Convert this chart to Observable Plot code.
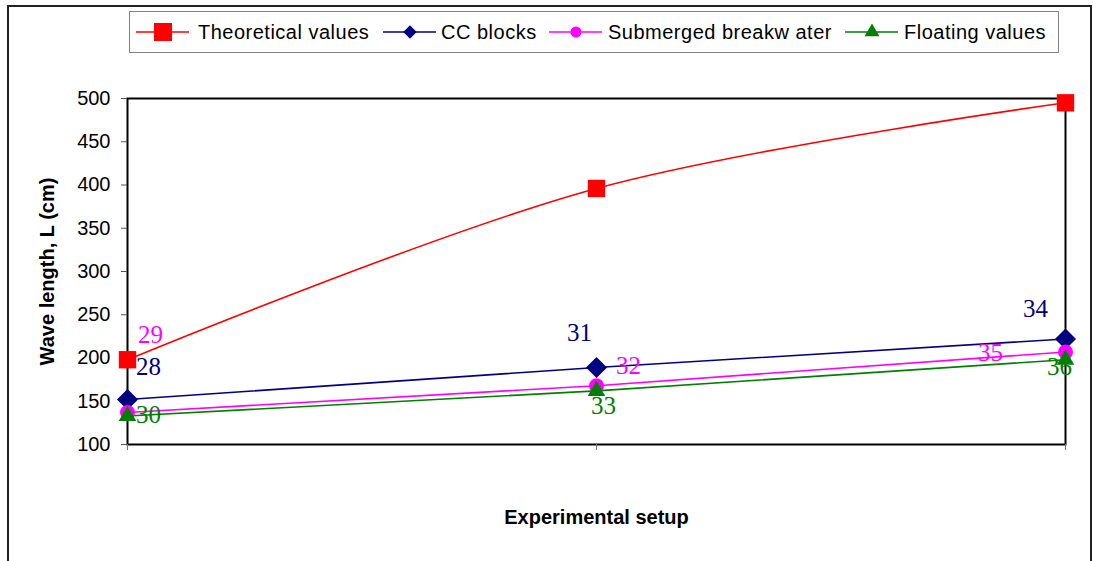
<!DOCTYPE html>
<html>
<head>
<meta charset="utf-8">
<script src="https://cdn.jsdelivr.net/npm/d3@7"></script>
<script src="https://cdn.jsdelivr.net/npm/@observablehq/plot@0.6"></script>
<style>
  html, body { margin: 0; padding: 0; background: #fff; }
  #wrap { position: relative; width: 1093px; height: 561px; overflow: hidden; font-family: "Liberation Sans", Arial, sans-serif; }
  #border { position: absolute; left: 7px; top: 5px; width: 1081px; height: 600px; border: 2px solid #222; }
  #legend { position: absolute; left: 129px; top: 11px; width: 928px; height: 40px; border: 1px solid #808080; background: #fff; }
  .item { position: absolute; top: 0; height: 40px; }
  .item svg { position: absolute; top: 0; }
  .item span { position: absolute; top: 0; line-height: 40px; font-size: 20px; letter-spacing: 0.5px; white-space: pre; color: #000; }
  #chart { position: absolute; left: 0; top: 60px; }
</style>
</head>
<body>
<div id="wrap">
  <div id="border"></div>
  <div id="legend"></div>
  <div id="chart"></div>
</div>
<script>
// ---- data ----
const setups = ["Setup 1", "Setup 2", "Setup 3"];
const theoretical = [198, 396, 495];
const ccBlocks = [152, 189, 222];
const submerged = [137, 168, 207];
const floating = [133, 162, 198];
const ccLabels = ["28", "31", "34"];
const submergedLabels = ["29", "32", "35"];
const floatingLabels = ["30", "33", "36"];
const seriesNames = ["Theoretical values", "CC blocks", "Submerged breakw ater", "Floating values"];
const yTicks = [100, 150, 200, 250, 300, 350, 400, 450, 500];

// ---- styles ----
const colors = ["#FF0000", "#000080", "#FF00FF", "#008000"];
const symbols = ["square", "diamond2", "circle", "triangle"];
const radii = [9.8, 9.5, 7.5, 6.5];

const allValues = [theoretical, ccBlocks, submerged, floating];
const rows = allValues.map((vals, s) => vals.map((v, i) => ({setup: setups[i], value: v, series: s})));

const labelSets = [
  {vals: ccBlocks, labels: ccLabels, color: colors[1], off: [[21, -33], [-17, -35], [-30, -30]]},
  {vals: submerged, labels: submergedLabels, color: colors[2], off: [[23, -77], [32, -20], [-75, 1]]},
  {vals: floating, labels: floatingLabels, color: colors[3], off: [[21, -1], [7, 15], [-6, 7]]}
];

const marks = [
  Plot.frame({stroke: "#000", strokeWidth: 2}),
  Plot.axisY({ticks: yTicks, tickSize: 6, tickPadding: 11, fontSize: 20, stroke: "#555", label: null, anchor: "left"}),
  Plot.axisX({tickSize: 6, tickFormat: () => "", stroke: "#777", label: null, anchor: "bottom"})
];

rows.forEach((data, s) => {
  marks.push(Plot.line(data, {x: "setup", y: "value", stroke: colors[s], strokeWidth: 1.6, curve: s === 0 ? "catmull-rom" : "linear"}));
});
[0, 1, 2, 3].forEach(s => {
  marks.push(Plot.dot(rows[s], {x: "setup", y: "value", symbol: symbols[s], r: radii[s], fill: colors[s], stroke: "none"}));
});
labelSets.forEach(ls => {
  ls.vals.forEach((v, i) => {
    marks.push(Plot.text([{setup: setups[i], value: v, label: ls.labels[i]}], {
      x: "setup", y: "value", text: "label", dx: ls.off[i][0], dy: ls.off[i][1],
      fill: ls.color, fontSize: 25, fontFamily: "Liberation Serif, Times New Roman, serif",
      textAnchor: "middle", lineAnchor: "middle"
    }));
  });
});
marks.push(Plot.text(["Wave length, L (cm)"], {text: d => d, frameAnchor: "left", dx: -80, rotate: -90, fontSize: 20, fontWeight: "bold", fill: "#000", lineAnchor: "middle", textAnchor: "middle"}));
marks.push(Plot.text(["Experimental setup"], {text: d => d, frameAnchor: "bottom", dy: 73, fontSize: 20, fontWeight: "bold", fill: "#000", lineAnchor: "middle", textAnchor: "middle"}));

const chart = Plot.plot({
  width: 1093,
  height: 501,
  marginTop: 38,
  marginBottom: 117,
  marginLeft: 127,
  marginRight: 28,
  style: {fontFamily: "Liberation Sans, Arial, sans-serif", color: "#000", background: "transparent", overflow: "visible"},
  x: {type: "point", domain: setups, padding: 0},
  y: {domain: [100, 500]},
  marks
});
document.getElementById("chart").appendChild(chart);

// ---- legend ----
const legend = document.getElementById("legend");
const itemLefts = [6, 253, 419, 715];
const textOffsets = [62, 58, 59, 59];
seriesNames.forEach((name, s) => {
  const item = document.createElement("div");
  item.className = "item";
  item.style.left = itemLefts[s] + "px";
  const svg = d3.create("svg").attr("width", 56).attr("height", 40);
  svg.append("line").attr("x1", 0).attr("x2", 53).attr("y1", 20).attr("y2", 20).attr("stroke", colors[s]).attr("stroke-width", 1.6);
  const sym = [d3.symbolSquare, d3.symbolDiamond2, d3.symbolCircle, d3.symbolTriangle][s];
  const size = s === 0 ? 18 * 18 : (s === 1 ? Math.PI * 6 * 6 : Math.PI * 5.5 * 5.5);
  svg.append("path").attr("d", d3.symbol(sym, size)()).attr("transform", "translate(27,20)").attr("fill", colors[s]);
  item.appendChild(svg.node());
  const span = document.createElement("span");
  span.textContent = name;
  span.style.left = textOffsets[s] + "px";
  item.appendChild(span);
  legend.appendChild(item);
});
</script>
</body>
</html>
